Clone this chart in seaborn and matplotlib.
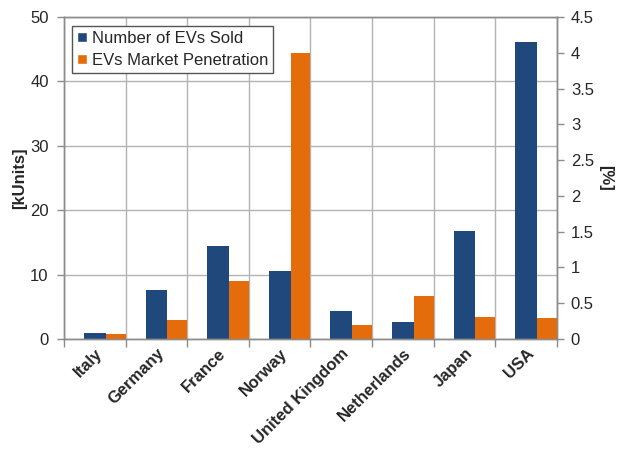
import matplotlib
matplotlib.use("Agg")
import matplotlib.pyplot as plt
import matplotlib.transforms as mtransforms
import seaborn as sns
import pandas as pd
from matplotlib.patches import Patch
from matplotlib.ticker import FixedLocator, MultipleLocator, FuncFormatter

# EV sales (thousand units) and market share (%) by country
countries = ["Italy", "Germany", "France", "Norway", "United Kingdom",
             "Netherlands", "Japan", "USA"]
evs_sold = [0.9, 7.6, 14.5, 10.5, 4.4, 2.6, 16.7, 46.1]
market_pen = [0.07, 0.26, 0.81, 4.0, 0.20, 0.60, 0.31, 0.30]
series_names = ["Number of EVs Sold", "EVs Market Penetration"]

BLUE = "#1F497D"
ORANGE = "#E46C0A"
GRID = "#b3b3b3"
SPINE = "#8c8c8c"

sns.set_theme(style="white")
plt.rcParams["font.family"] = ["Liberation Sans", "DejaVu Sans"]

df = pd.DataFrame({"country": countries, "sold": evs_sold, "pen": market_pen})

fig = plt.figure(figsize=(6.17, 4.49), dpi=100)
ax = fig.add_axes([0.1037, 0.245, 0.799, 0.717])
ax2 = ax.twinx()

sns.barplot(data=df, x="country", y="sold", order=countries, color=BLUE,
            width=0.352, saturation=1, linewidth=0, ax=ax, zorder=2)
sns.barplot(data=df, x="country", y="pen", order=countries, color=ORANGE,
            width=0.324, saturation=1, linewidth=0, ax=ax2, zorder=2)
# secondary-axis bars sit just right of the primary bars
for p in ax2.patches:
    p.set_x(p.get_x() + 0.338)

n = len(countries)
ax.set_xlim(-0.5, n - 0.5)
ax.set_ylim(0, 50)
ax2.set_ylim(0, 4.5)

ax.yaxis.set_major_locator(MultipleLocator(10))
ax2.yaxis.set_major_locator(MultipleLocator(0.5))
ax2.yaxis.set_major_formatter(FuncFormatter(lambda v, _: f"{v:g}"))

ax.set_xticks(range(n))
ax.set_xticklabels(countries, rotation=45, ha="right", va="top",
                   rotation_mode="anchor", fontweight="bold", fontsize=12)
shift = mtransforms.ScaledTranslation(-4 / 100, 0, fig.dpi_scale_trans)
for lbl in ax.get_xticklabels():
    lbl.set_transform(lbl.get_transform() + shift)
ax.xaxis.set_minor_locator(FixedLocator([i - 0.5 for i in range(n + 1)]))
ax.tick_params(axis="x", which="major", length=0, pad=5)
ax.tick_params(axis="x", which="minor", length=6, width=1, color=SPINE,
               bottom=True)
ax.tick_params(axis="y", which="major", length=5, width=1, color=SPINE,
               labelsize=12, left=True, pad=6)
ax2.tick_params(axis="y", which="major", length=5, width=1, color=SPINE,
                labelsize=12, right=True, pad=5)

ax.set_axisbelow(True)
ax.grid(True, axis="y", which="major", color=GRID, linewidth=1)
ax.grid(True, axis="x", which="minor", color=GRID, linewidth=1)
ax.grid(False, axis="x", which="major")
ax2.grid(False)

for a in (ax, ax2):
    for s in a.spines.values():
        s.set_visible(True)
        s.set_color(SPINE)
        s.set_linewidth(1)

ax.set_xlabel("")
ax2.set_xlabel("")
ax.set_ylabel("[kUnits]", fontweight="bold", fontsize=12, labelpad=2)
ax2.set_ylabel("[%]", fontweight="bold", fontsize=12, rotation=270,
               labelpad=14)

handles = [Patch(facecolor=BLUE), Patch(facecolor=ORANGE)]
leg = ax2.legend(handles, series_names, loc="upper left",
                 bbox_to_anchor=(0.016, 0.972), borderaxespad=0,
                 frameon=True, fancybox=False, edgecolor="#555555",
                 framealpha=1, fontsize=12, handlelength=0.6,
                 handleheight=0.6, handletextpad=0.3, borderpad=0.3,
                 labelspacing=0.4)
leg.get_frame().set_linewidth(1)

fig.savefig("out.png", dpi=100)
